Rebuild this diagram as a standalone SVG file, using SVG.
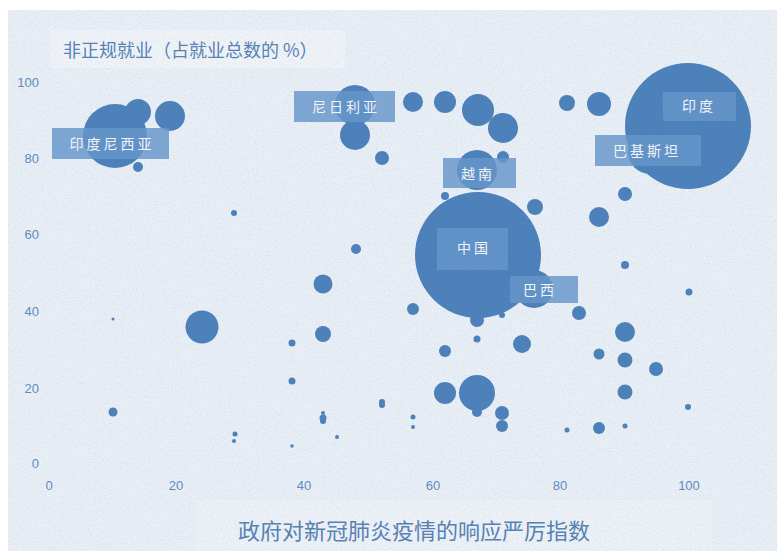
<svg xmlns="http://www.w3.org/2000/svg" width="777" height="551" viewBox="0 0 777 551">
<defs>
<style>
.bub{fill:#4b80ba}
.box{fill:#6596cb;fill-opacity:0.82}
.lbl{font-family:"Noto Sans CJK SC","Noto Sans",sans-serif;font-size:14px;fill:#f4f7fb;text-anchor:middle;letter-spacing:3px}
.ax{font-family:"Liberation Sans",Arial,sans-serif;font-size:13px;fill:#5b8cc0}
.ttl{font-family:"Noto Sans CJK SC","Noto Sans",sans-serif;fill:#5681b3}
</style>
<filter id="linen" x="0" y="0" width="100%" height="100%">
<feTurbulence type="fractalNoise" baseFrequency="0.85 0.85" numOctaves="2" seed="7" result="n"/>
<feColorMatrix in="n" type="matrix" values="0 0 0 0 0.25  0 0 0 0 0.32  0 0 0 0 0.42  1.6 0 0 0 -0.72"/>
</filter>
</defs>
<rect width="777" height="551" fill="#ffffff"/>
<rect x="8" y="10" width="769" height="541" fill="#e9eff6"/>
<rect x="50" y="30" width="295" height="38" fill="#f0f4f9"/>
<rect x="195" y="500" width="517" height="51" fill="#edf2f8"/>

<g id="axis-y">
<text class="ax" x="39" y="87" text-anchor="end">100</text>
<text class="ax" x="39" y="163" text-anchor="end">80</text>
<text class="ax" x="39" y="239" text-anchor="end">60</text>
<text class="ax" x="39" y="316" text-anchor="end">40</text>
<text class="ax" x="39" y="393" text-anchor="end">20</text>
<text class="ax" x="39" y="468" text-anchor="end">0</text>
</g>
<g id="axis-x">
<text class="ax" x="49" y="490" text-anchor="middle">0</text>
<text class="ax" x="176" y="490" text-anchor="middle">20</text>
<text class="ax" x="304" y="490" text-anchor="middle">40</text>
<text class="ax" x="433" y="490" text-anchor="middle">60</text>
<text class="ax" x="560" y="490" text-anchor="middle">80</text>
<text class="ax" x="689" y="490" text-anchor="middle">100</text>
</g>

<g id="bubbles">
<circle class="bub" cx="138" cy="112" r="13"/>
<circle class="bub" cx="170" cy="116" r="15"/>
<circle class="bub" cx="138" cy="167" r="5"/>
<circle class="bub" cx="355" cy="135" r="15"/>
<circle class="bub" cx="382" cy="158" r="7"/>
<circle class="bub" cx="413" cy="102" r="10"/>
<circle class="bub" cx="445" cy="102" r="11"/>
<circle class="bub" cx="478" cy="110" r="16"/>
<circle class="bub" cx="503" cy="128" r="15"/>
<circle class="bub" cx="503" cy="157" r="6"/>
<circle class="bub" cx="567" cy="103" r="8"/>
<circle class="bub" cx="599" cy="104" r="12"/>
<circle class="bub" cx="625" cy="194" r="7"/>
<circle class="bub" cx="599" cy="217" r="10"/>
<circle class="bub" cx="535" cy="207" r="8"/>
<circle class="bub" cx="445" cy="196" r="4"/>
<circle class="bub" cx="413" cy="309" r="6"/>
<circle class="bub" cx="477" cy="320" r="7"/>
<circle class="bub" cx="579" cy="313" r="7"/>
<circle class="bub" cx="502" cy="315" r="3"/>
<circle class="bub" cx="477" cy="339" r="3.5"/>
<circle class="bub" cx="445" cy="351" r="6"/>
<circle class="bub" cx="522" cy="344" r="9"/>
<circle class="bub" cx="625" cy="265" r="4"/>
<circle class="bub" cx="689" cy="292" r="3.5"/>
<circle class="bub" cx="625" cy="332" r="10"/>
<circle class="bub" cx="599" cy="354" r="5.5"/>
<circle class="bub" cx="625" cy="360" r="7.5"/>
<circle class="bub" cx="656" cy="369" r="7"/>
<circle class="bub" cx="445" cy="393" r="11"/>
<circle class="bub" cx="477" cy="393" r="18"/>
<circle class="bub" cx="477" cy="412" r="5"/>
<circle class="bub" cx="502" cy="413" r="7"/>
<circle class="bub" cx="502" cy="426" r="6"/>
<circle class="bub" cx="413" cy="417" r="2.5"/>
<circle class="bub" cx="413" cy="427" r="2"/>
<circle class="bub" cx="382" cy="402" r="3"/>
<circle class="bub" cx="382" cy="405" r="3"/>
<circle class="bub" cx="567" cy="430" r="2.5"/>
<circle class="bub" cx="599" cy="428" r="6"/>
<circle class="bub" cx="625" cy="426" r="2.5"/>
<circle class="bub" cx="625" cy="392" r="7.5"/>
<circle class="bub" cx="688" cy="407" r="3"/>
<circle class="bub" cx="234" cy="213" r="3"/>
<circle class="bub" cx="356" cy="249" r="5"/>
<circle class="bub" cx="323" cy="284" r="9.5"/>
<circle class="bub" cx="202" cy="327" r="16.5"/>
<circle class="bub" cx="323" cy="334" r="8"/>
<circle class="bub" cx="292" cy="343" r="3.5"/>
<circle class="bub" cx="113" cy="319" r="1.5"/>
<circle class="bub" cx="113" cy="412" r="4.5"/>
<circle class="bub" cx="292" cy="381" r="3.5"/>
<circle class="bub" cx="235" cy="434" r="2.5"/>
<circle class="bub" cx="234" cy="441" r="2"/>
<circle class="bub" cx="292" cy="446" r="1.7"/>
<circle class="bub" cx="323" cy="413" r="2"/>
<circle class="bub" cx="323" cy="418" r="3.5"/>
<circle class="bub" cx="323" cy="421" r="3"/>
<circle class="bub" cx="337" cy="437" r="2"/>
</g>

<g id="indonesia">
<circle class="bub" cx="115" cy="136" r="32"/>
<rect class="box" x="52" y="128" width="117" height="31"/>
<text class="lbl" x="112" y="149">印度尼西亚</text>
</g>
<g id="nigeria">
<circle class="bub" cx="355" cy="105" r="20"/>
<rect class="box" x="294" y="91" width="101" height="31"/>
<text class="lbl" x="346" y="112">尼日利亚</text>
</g>
<g id="vietnam">
<circle class="bub" cx="477" cy="170" r="20"/>
<rect class="box" x="443" y="158" width="73" height="30"/>
<text class="lbl" x="478" y="179">越南</text>
</g>
<g id="india">
<circle class="bub" cx="688" cy="126" r="63"/>
<rect class="box" x="663" y="92" width="73" height="29"/>
<text class="lbl" x="699" y="111">印度</text>
</g>
<g id="pakistan">
<circle class="bub" cx="650" cy="152" r="22"/>
<rect class="box" x="595" y="135" width="106" height="31"/>
<text class="lbl" x="647" y="156">巴基斯坦</text>
</g>
<g id="china">
<circle class="bub" cx="478" cy="255" r="63"/>
<rect class="box" x="437" y="228" width="71" height="42" fill-opacity="0.35"/>
<text class="lbl" x="474" y="253">中国</text>
</g>
<g id="brazil">
<circle class="bub" cx="534" cy="289" r="19"/>
<rect class="box" x="510" y="276" width="68" height="27"/>
<text class="lbl" x="540" y="295">巴西</text>
</g>
<g id="connectors"/>

<text class="ttl" x="63" y="57" font-size="18">非正规就业（占就业总数的 %）</text>
<text class="ttl" x="238" y="539" font-size="22">政府对新冠肺炎疫情的响应严厉指数</text>

<rect x="8" y="10" width="769" height="541" filter="url(#linen)" opacity="0.28"/>
</svg>
